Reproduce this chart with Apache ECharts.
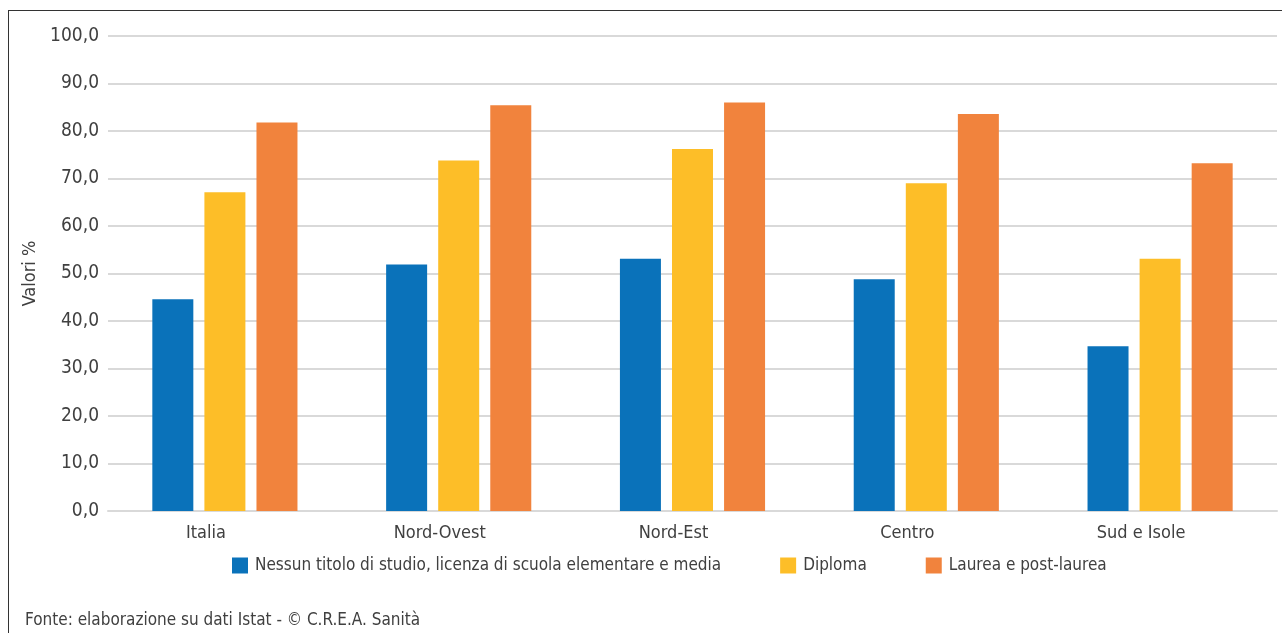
<!DOCTYPE html>
<html>
<head>
<meta charset="utf-8">
<script src="https://cdn.jsdelivr.net/npm/echarts@6/dist/echarts.min.js"></script>
<style>
html,body{margin:0;padding:0;background:#fff;}
#frame{position:absolute;left:8px;top:10px;width:1274px;height:623px;border-left:1.5px solid #333;border-top:1.5px solid #333;box-sizing:border-box;}
#chart{position:absolute;left:0;top:0;width:1282px;height:633px;}
</style>
</head>
<body>
<div id="frame"></div>
<div id="chart"></div>
<script>
const categories = ['Italia', 'Nord-Ovest', 'Nord-Est', 'Centro', 'Sud e Isole'];
const seriesNames = ['Nessun titolo di studio, licenza di scuola elementare e media', 'Diploma', 'Laurea e post-laurea'];
const nessunTitolo = [44.6, 51.9, 53.1, 48.8, 34.7];
const diploma = [67.1, 73.8, 76.2, 69.0, 53.1];
const laurea = [81.8, 85.4, 86.0, 83.6, 73.2];
const colors = ['#0A72BA', '#FDBE28', '#F1833D'];
const yTicks = {min: 0, max: 100, interval: 10};
const footer = 'Fonte: elaborazione su dati Istat - © C.R.E.A. Sanità';
const yName = 'Valori %';

const font = '"Liberation Sans Narrow", "DejaVu Sans Condensed", "Liberation Sans", sans-serif';
const chart = echarts.init(document.getElementById('chart'), null, {renderer: 'canvas'});
const values = [nessunTitolo, diploma, laurea];
chart.setOption({
  animation: false,
  textStyle: {fontFamily: font},
  title: {
    text: footer, left: 20, top: 607,
    textStyle: {fontFamily: font, fontSize: 17, fontWeight: 'normal', color: '#404040'}
  },
  legend: {
    left: 227, top: 552, itemWidth: 16, itemHeight: 16, itemGap: 59,
    icon: 'rect',
    textStyle: {fontFamily: font, fontSize: 17, color: '#404040', padding: [0, 0, 0, 2]},
    data: seriesNames
  },
  grid: {left: 108, right: 5, top: 36, bottom: 122, containLabel: false},
  xAxis: {
    type: 'category', data: categories,
    axisLine: {lineStyle: {color: '#d9d9d9', width: 2}},
    axisTick: {show: false},
    axisLabel: {fontFamily: font, fontSize: 18, color: '#404040', margin: 13, padding: [0, 38, 0, 0]}
  },
  yAxis: {
    type: 'value', min: yTicks.min, max: yTicks.max, interval: yTicks.interval,
    name: yName, nameLocation: 'middle', nameGap: 57, nameRotate: 90,
    nameTextStyle: {fontFamily: font, fontSize: 18, color: '#404040'},
    axisLine: {show: false}, axisTick: {show: false},
    axisLabel: {fontFamily: font, fontSize: 19, color: '#404040', margin: 9,
      formatter: v => v.toFixed(1).replace('.', ',')},
    splitLine: {lineStyle: {color: '#d9d9d9', width: 2}}
  },
  series: seriesNames.map((n, i) => ({
    name: n, type: 'bar', data: values[i], barWidth: 41, barGap: '27%',
    itemStyle: {color: colors[i]}
  }))
});
</script>
</body>
</html>
